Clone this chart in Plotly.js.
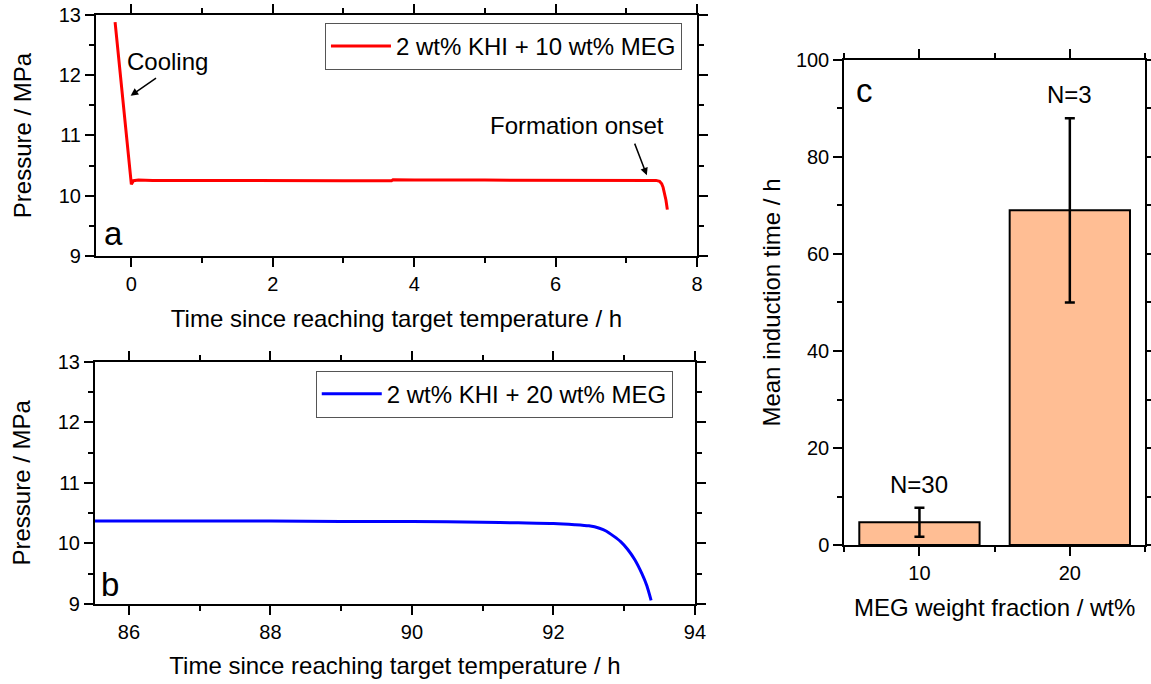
<!DOCTYPE html>
<html><head><meta charset="utf-8">
<script src="https://cdn.plot.ly/plotly-3.0.1.min.js"></script>
<style>html,body{margin:0;padding:0;background:#fff}#chart{width:1151px;height:684px}</style>
</head><body><div id="chart"></div>
<script>
// Panel a: 2 wt% KHI + 10 wt% MEG
const timeA = [-0.23, -0.01, 0.0, 0.03, 0.1, 0.3, 0.6, 1.0, 1.5, 2.0, 2.5, 3.0, 3.5, 3.68, 3.7, 4.0, 5.0, 6.0, 7.0, 7.35, 7.42, 7.47, 7.5, 7.52, 7.54, 7.56, 7.58];
const pressureA = [12.88, 10.22, 10.19, 10.25, 10.26, 10.255, 10.26, 10.255, 10.255, 10.25, 10.25, 10.25, 10.25, 10.25, 10.265, 10.26, 10.26, 10.26, 10.26, 10.26, 10.255, 10.24, 10.2, 10.14, 10.05, 9.93, 9.77];
// Panel b: 2 wt% KHI + 20 wt% MEG
const timeB = [85.5, 86, 87, 88, 89, 90, 91, 91.5, 92.0, 92.3, 92.5, 92.65, 92.75, 92.85, 92.95, 93.05, 93.15, 93.25, 93.32, 93.38];
const pressureB = [10.37, 10.37, 10.37, 10.37, 10.36, 10.36, 10.35, 10.34, 10.33, 10.31, 10.29, 10.25, 10.2, 10.12, 10.03, 9.9, 9.73, 9.5, 9.3, 9.06];
// Panel c: mean induction times
const megFraction = [10, 20];
const meanInduction = [4.7, 69];
const errInduction = [3, 19];
const nLabels = ['N=30', 'N=3'];
const seriesNames = ['2 wt% KHI + 10 wt% MEG', '2 wt% KHI + 20 wt% MEG'];

const FONT = 'Liberation Sans, Arial, sans-serif';

function ax(extra, minorDtick) {
  return Object.assign({
    showline: true, linecolor: 'black', linewidth: 2, mirror: 'allticks',
    ticks: 'outside', ticklen: 9, tickwidth: 2, tickcolor: 'black',
    showgrid: false, zeroline: false,
    tickfont: {family: FONT, size: 20, color: 'black'},
    minor: {ticks: 'outside', ticklen: 5, tickwidth: 2, tickcolor: 'black', dtick: minorDtick, showgrid: false}
  }, extra);
}
function ttl(t, standoff) { return {text: t, font: {family: FONT, size: 24, color: 'black'}, standoff: standoff}; }

const data = [
  {x: timeA, y: pressureA, type: 'scatter', mode: 'lines', name: seriesNames[0],
   line: {color: '#ff0000', width: 3}, xaxis: 'x', yaxis: 'y', legend: 'legend'},
  {x: timeB, y: pressureB, type: 'scatter', mode: 'lines', name: seriesNames[1],
   line: {color: '#0000ff', width: 3, shape: 'spline', smoothing: 0.6}, xaxis: 'x2', yaxis: 'y2', legend: 'legend2'},
  {x: megFraction, y: meanInduction, type: 'bar', width: 8, showlegend: false,
   marker: {color: '#ffbe94', line: {color: 'black', width: 2}},
   error_y: {type: 'data', array: errInduction, color: 'black', thickness: 2.5, width: 5},
   xaxis: 'x3', yaxis: 'y3'}
];

const legendBase = {bgcolor: 'white', bordercolor: '#555', borderwidth: 1,
  font: {family: FONT, size: 24, color: 'black'}, xanchor: 'right', yanchor: 'top', itemwidth: 60};

const annotations = [
  {xref: 'x', yref: 'y', x: 0.51, y: 12.22, text: 'Cooling', showarrow: false, font: {family: FONT, size: 24, color: 'black'}},
  {xref: 'x', yref: 'y', x: -0.01, y: 11.66, axref: 'x', ayref: 'y', ax: 0.37, ay: 11.97, text: '', showarrow: true, arrowhead: 2, arrowsize: 1, arrowwidth: 1.5, arrowcolor: 'black'},
  {xref: 'x', yref: 'y', x: 6.3, y: 11.17, text: 'Formation onset', showarrow: false, font: {family: FONT, size: 24, color: 'black'}},
  {xref: 'x', yref: 'y', x: 7.29, y: 10.34, axref: 'x', ayref: 'y', ax: 7.11, ay: 10.89, text: '', showarrow: true, arrowhead: 2, arrowsize: 1, arrowwidth: 1.5, arrowcolor: 'black'},
  {xref: 'x', yref: 'y', x: -0.25, y: 9.38, text: 'a', showarrow: false, font: {family: FONT, size: 33, color: 'black'}},
  {xref: 'x2', yref: 'y2', x: 85.73, y: 9.32, text: 'b', showarrow: false, font: {family: FONT, size: 33, color: 'black'}},
  {xref: 'x3', yref: 'y3', x: 6.32, y: 93.8, text: 'c', showarrow: false, font: {family: FONT, size: 33, color: 'black'}}
];
megFraction.forEach((m, i) => {
  annotations.push({xref: 'x3', yref: 'y3', x: m, y: meanInduction[i] + errInduction[i], yshift: 8,
    yanchor: 'bottom', text: nLabels[i], showarrow: false, font: {family: FONT, size: 24, color: 'black'}});
});

const layout = {
  width: 1151, height: 684, margin: {l: 0, r: 0, t: 0, b: 0},
  paper_bgcolor: 'white', plot_bgcolor: 'white',
  font: {family: FONT, color: 'black'},
  xaxis: ax({domain: [0.0834, 0.6056], range: [-0.5, 8], dtick: 2, anchor: 'y', title: ttl('Time since reaching target temperature / h', 16)}, 1),
  yaxis: ax({domain: [0.6257, 0.9781], range: [9, 13], dtick: 1, anchor: 'x', title: ttl('Pressure / MPa', 20)}, 0.5),
  xaxis2: ax({domain: [0.0825, 0.6038], range: [85.52, 94], dtick: 2, anchor: 'y2', title: ttl('Time since reaching target temperature / h', 15)}, 1),
  yaxis2: ax({domain: [0.1170, 0.4712], range: [9, 13], dtick: 1, anchor: 'x2', title: ttl('Pressure / MPa', 20)}, 0.5),
  xaxis3: ax({domain: [0.7335, 0.9948], range: [5, 25], tickvals: [10, 20], anchor: 'y3', title: ttl('MEG weight fraction / wt%', 16)}, 5),
  yaxis3: ax({domain: [0.2032, 0.9123], range: [0, 100], dtick: 20, anchor: 'x3', title: ttl('Mean induction time / h', 8)}, 10),
  legend: Object.assign({x: 0.5925, y: 0.9664}, legendBase),
  legend2: Object.assign({x: 0.5845, y: 0.458}, legendBase),
  annotations: annotations,
  showlegend: true
};

Plotly.newPlot('chart', data, layout, {staticPlot: true, displayModeBar: false});
</script>
</body></html>
